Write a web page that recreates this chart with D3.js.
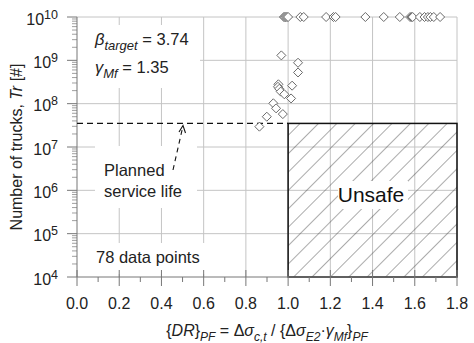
<!DOCTYPE html>
<html><head><meta charset="utf-8">
<script src="https://cdn.jsdelivr.net/npm/d3@7"></script>
<style>body{margin:0;background:#fff}svg{display:block;font-family:"Liberation Sans",Arial,sans-serif}</style>
</head><body><svg id="c" width="474" height="343"></svg>
<script>
// ---- data ----
const xTicks = [0.0,0.2,0.4,0.6,0.8,1.0,1.2,1.4,1.6,1.8];
const yTickExps = [4,5,6,7,8,9,10];
// points at the upper bound (Tr = 1e10)
const topDR = [0.98,0.985,0.99,0.995,1.0,1.058,1.074,1.18,1.215,1.225,1.366,1.453,1.529,1.578,1.585,1.59,1.624,1.646,1.662,1.674,1.69,1.72];
const topTr = topDR.map(()=>1e10);
// scattered points
const scDR = [0.968,1.047,1.047,0.954,0.952,0.958,0.965,0.982,1.019,1.014,0.93,0.943,0.975,0.899,0.864];
const scTr = [1.3e9,8.8e8,5.25e8,2.8e8,2.45e8,2.2e8,1.9e8,1.65e8,2.6e8,1.32e8,1.02e8,7.8e7,5.75e7,5.0e7,2.95e7];
const plannedLife = 3.5e7;
const unsafeDR = [1.0,1.8];

// ---- layout ----
const svg = d3.select("#c");
const L=77,R=457,T=17,B=277;
const x = d3.scaleLinear().domain([0,1.8]).range([L,R]);
const y = d3.scaleLog().domain([1e4,1e10]).range([B,T]);
const grid="#c4c4c4";

// hatch pattern
const defs = svg.append("defs");
const pat = defs.append("pattern").attr("id","hatch").attr("patternUnits","userSpaceOnUse")
  .attr("width",13).attr("height",13).attr("patternTransform","rotate(45)");
pat.append("line").attr("x1",0).attr("y1",0).attr("x2",0).attr("y2",13).attr("stroke","#444").attr("stroke-width",0.9);

// gridlines
svg.append("g").selectAll("line").data(xTicks.slice(1)).join("line")
  .attr("x1",d=>x(d)).attr("x2",d=>x(d)).attr("y1",T).attr("y2",B).attr("stroke",grid);
svg.append("g").selectAll("line").data(yTickExps.slice(1)).join("line")
  .attr("x1",L).attr("x2",R).attr("y1",d=>y(Math.pow(10,d))).attr("y2",d=>y(Math.pow(10,d))).attr("stroke",grid);

// white label boxes
const boxes=[[77,25,200,88],[95,146,197,208],[88,243,210,274]];
svg.append("g").selectAll("rect").data(boxes).join("rect")
  .attr("x",d=>d[0]).attr("y",d=>d[1]).attr("width",d=>d[2]-d[0]).attr("height",d=>d[3]-d[1]).attr("fill","#fff");

// unsafe region
svg.append("rect").attr("x",x(unsafeDR[0])).attr("y",y(plannedLife))
  .attr("width",x(unsafeDR[1])-x(unsafeDR[0])).attr("height",y(1e4)-y(plannedLife))
  .attr("fill","url(#hatch)");
svg.append("rect").attr("x",338).attr("y",181).attr("width",70).attr("height",28).attr("fill","#fff");
svg.append("rect").attr("x",x(unsafeDR[0])).attr("y",y(plannedLife))
  .attr("width",x(unsafeDR[1])-x(unsafeDR[0])).attr("height",y(1e4)-y(plannedLife))
  .attr("fill","none").attr("stroke","#111").attr("stroke-width",1.5);
svg.append("text").attr("x",371).attr("y",202).attr("text-anchor","middle").attr("font-size",21).attr("fill","#111").text("Unsafe");

// axes
const ax="#777";
svg.append("line").attr("x1",L).attr("x2",R).attr("y1",B).attr("y2",B).attr("stroke",ax);
svg.append("line").attr("x1",L).attr("x2",L).attr("y1",T).attr("y2",B).attr("stroke",ax);
// x ticks
svg.append("g").selectAll("line").data(xTicks).join("line")
  .attr("x1",d=>x(d)).attr("x2",d=>x(d)).attr("y1",B-7).attr("y2",B+9).attr("stroke",ax);
const xMinor = d3.range(0.1,1.8,0.2);
svg.append("g").selectAll("line").data(xMinor).join("line")
  .attr("x1",d=>x(d)).attr("x2",d=>x(d)).attr("y1",B).attr("y2",B+5).attr("stroke",ax);
svg.append("g").selectAll("text").data(xTicks).join("text")
  .attr("x",d=>x(d)).attr("y",309).attr("text-anchor","middle").attr("font-size",16).attr("fill","#222")
  .text(d=>d.toFixed(1));
// y ticks
svg.append("g").selectAll("line").data(yTickExps).join("line")
  .attr("x1",L-10).attr("x2",L).attr("y1",d=>y(Math.pow(10,d))).attr("y2",d=>y(Math.pow(10,d))).attr("stroke",ax);
const yMinor=[];
yTickExps.slice(0,-1).forEach(e=>{for(let k=2;k<=9;k++) yMinor.push(k*Math.pow(10,e));});
svg.append("g").selectAll("line").data(yMinor).join("line")
  .attr("x1",L-5).attr("x2",L).attr("y1",d=>y(d)).attr("y2",d=>y(d)).attr("stroke",ax).attr("stroke-width",0.7);
const yl = svg.append("g").selectAll("text").data(yTickExps).join("text")
  .attr("x",58).attr("y",d=>y(Math.pow(10,d))+7.5).attr("text-anchor","end").attr("font-size",16).attr("fill","#222");
yl.append("tspan").text("10");
yl.append("tspan").attr("dy",-6).attr("font-size",12.5).text(d=>d);

// axis titles
const yt = svg.append("text").attr("transform","translate(22,147) rotate(-90)").attr("text-anchor","middle")
  .attr("font-size",16).attr("fill","#222");
yt.append("tspan").text("Number of trucks, ");
yt.append("tspan").attr("font-style","italic").text("Tr");
yt.append("tspan").text(" [#]");

const xt = svg.append("text").attr("x",267).attr("y",336).attr("text-anchor","middle").attr("font-size",16).attr("fill","#222");
const parts=[["{",0,0],["DR",0,1],["}",0,0],["PF",1,1],[" = Δ",0,0],["σ",0,1],["c,t",1,1],[" / {Δ",0,0],["σ",0,1],["E2",1,1],["·",0,0],["γ",0,1],["Mf",1,1],["}",0,0],["PF",1,1]];
let prevSub=false;
parts.forEach(p=>{
  const t=xt.append("tspan").text(p[0]);
  if(p[2]) t.attr("font-style","italic");
  if(p[1]){t.attr("font-size",12); if(!prevSub) t.attr("dy",5);}
  else if(prevSub) t.attr("dy",-5);
  prevSub=!!p[1];
});

// planned life dashed line
svg.append("line").attr("x1",L).attr("x2",x(unsafeDR[0])).attr("y1",y(plannedLife)).attr("y2",y(plannedLife))
  .attr("stroke","#111").attr("stroke-width",1.2).attr("stroke-dasharray","6,4");
// arrow
svg.append("line").attr("x1",173).attr("y1",170).attr("x2",182.5).attr("y2",128)
  .attr("stroke","#111").attr("stroke-width",1.1).attr("stroke-dasharray","5,4");
svg.append("path").attr("d","M179,132 L183,125.5 L185.5,133").attr("fill","none").attr("stroke","#111").attr("stroke-width",1.1);

// annotations
const a1=svg.append("text").attr("x",95).attr("y",45).attr("font-size",16.5).attr("fill","#222");
a1.append("tspan").attr("font-style","italic").text("β");
a1.append("tspan").attr("font-style","italic").attr("font-size",13).attr("dy",5).text("target");
a1.append("tspan").attr("dy",-5).text(" = 3.74");
const a2=svg.append("text").attr("x",95).attr("y",73).attr("font-size",16.5).attr("fill","#222");
a2.append("tspan").attr("font-style","italic").text("γ");
a2.append("tspan").attr("font-style","italic").attr("font-size",13).attr("dy",5).text("Mf");
a2.append("tspan").attr("dy",-5).text(" = 1.35");
svg.append("text").attr("x",104).attr("y",176).attr("font-size",16.5).attr("fill","#222").text("Planned");
svg.append("text").attr("x",104).attr("y",197).attr("font-size",16.5).attr("fill","#222").text("service life");
svg.append("text").attr("x",96).attr("y",263).attr("font-size",16.5).attr("fill","#222").text("78 data points");

// points
const pts = topDR.map((d,i)=>[d,topTr[i]]).concat(scDR.map((d,i)=>[d,scTr[i]]));
const sym = d3.symbol().type(d3.symbolDiamond2).size(52);
svg.append("g").selectAll("path").data(pts).join("path")
  .attr("transform",d=>`translate(${x(d[0])},${y(d[1])})`).attr("d",sym)
  .attr("fill","#fff").attr("stroke","#6a6a6a").attr("stroke-width",1);
</script></body></html>
